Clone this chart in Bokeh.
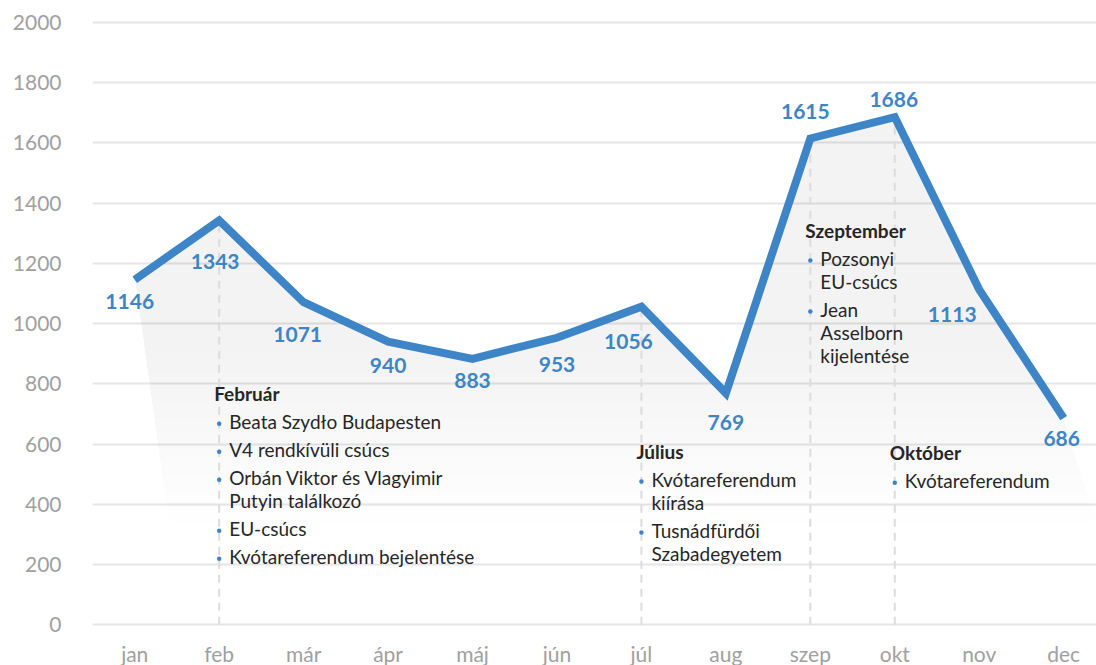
import numpy as np
from bokeh.plotting import figure
from bokeh.models import ColumnDataSource, FixedTicker, Range1d
from bokeh.core.properties import value
from bokeh.embed import file_html
from bokeh.resources import INLINE

# ---------------- data ----------------
months = ["jan", "feb", "már", "ápr", "máj", "jún", "júl", "aug", "szep", "okt", "nov", "dec"]
counts = [1146, 1343, 1071, 940, 883, 953, 1056, 769, 1615, 1686, 1113, 686]
y_ticks = [0, 200, 400, 600, 800, 1000, 1200, 1400, 1600, 1800, 2000]

event_months = ["feb", "júl", "szep", "okt"]
event_titles = ["Február", "Július", "Szeptember", "Október"]
event_items = [
    [["Beata Szydło Budapesten"], ["V4 rendkívüli csúcs"],
     ["Orbán Viktor és Vlagyimir", "Putyin találkozó"], ["EU-csúcs"],
     ["Kvótareferendum bejelentése"]],
    [["Kvótareferendum", "kiírása"], ["Tusnádfürdői", "Szabadegyetem"]],
    [["Pozsonyi", "EU-csúcs"], ["Jean", "Asselborn", "kijelentése"]],
    [["Kvótareferendum"]],
]

# ---------------- style / layout ----------------
BLUE = "#3d85c6"
DARK = "#262626"
GRAY_TXT = "#a0a0a0"
FONT = "Lato"
title_levels = [767, 575, 1309, 571]          # vertical anchor of annotation titles (y units)
label_dx = [-5, -4, -6, 0, 0, 0, -13, 0, -5, -1, -27, -2]
label_dy = [22, 41, 32, 24, 22, 27, 35, 29, -27, -18, 25, 20]
shadow_base, skew_l, skew_r = 340, 0.4, 0.39
Y0, Y1 = -6, 2050
FRAME_H = 619
FRAME_W = 1004
px_per_unit = FRAME_H / (Y1 - Y0)

p = figure(frame_width=FRAME_W, frame_height=FRAME_H,
           x_range=Range1d(-0.5, -0.5 + FRAME_W / 84.45), y_range=Range1d(Y0, Y1),
           output_backend="svg", toolbar_location=None,
           min_border_left=92, min_border_right=0, min_border_top=7, min_border_bottom=20)
p.outline_line_color = None
p.background_fill_color = "white"
p.border_fill_color = "white"

xs = list(range(len(months)))

# ---------------- shadow gradient ----------------
poly = [(i, v) for i, v in zip(xs, counts)] + [(xs[-1] + skew_r, shadow_base), (xs[0] + skew_l, shadow_base)]

def clip_above(poly, level):
    out = []
    n = len(poly)
    for k in range(n):
        cur, prev = poly[k], poly[k - 1]
        cin, pin = cur[1] >= level, prev[1] >= level
        if cin != pin:
            t = (level - prev[1]) / (cur[1] - prev[1])
            out.append((prev[0] + t * (cur[0] - prev[0]), level))
        if cin:
            out.append(cur)
    return out

levels = np.linspace(shadow_base, 880, 12)
layer_alpha = 0.005
for lv in levels:
    c = clip_above(poly, lv)
    if len(c) >= 3:
        p.patch([q[0] for q in c], [q[1] for q in c], fill_color="#3c404b",
                fill_alpha=layer_alpha, line_color=None)

# ---------------- dashed guides ----------------
ev_idx = [months.index(m) for m in event_months]
p.segment(x0=ev_idx, y0=[0] * len(ev_idx), x1=ev_idx, y1=[counts[i] for i in ev_idx],
          line_color="#dcdcdc", line_width=2, line_dash="8 6")

# ---------------- main line ----------------
p.line(xs, counts, line_color=BLUE, line_width=8, line_join="miter", line_cap="butt")

p.text(x=xs, y=counts, text=[str(c) for c in counts], x_offset=label_dx, y_offset=label_dy,
       text_align="center", text_baseline="middle", text_color=BLUE,
       text_font=value(FONT), text_font_style="bold", text_font_size="21px")

# ---------------- annotations ----------------
tx, ty, tt, tdy = [], [], [], []
ix, iy, it, idy = [], [], [], []
bx, by = [], []
for mi, title, items, lvl in zip(ev_idx, event_titles, event_items, title_levels):
    tx.append(mi); ty.append(lvl); tt.append(title); tdy.append(0)
    off = 0
    for item in items:
        off += 28
        bx.append(mi); by.append(lvl - (off + 2) / px_per_unit)
        for j, line in enumerate(item):
            if j > 0:
                off += 23
            ix.append(mi); iy.append(lvl); it.append(line); idy.append(off)

p.text(x=tx, y=ty, text=tt, x_offset=-5, y_offset=tdy, text_align="left",
       text_baseline="middle", text_color=DARK, text_font=value(FONT),
       text_font_style="bold", text_font_size="19px")
p.text(x=ix, y=iy, text=it, x_offset=10, y_offset=idy, text_align="left",
       text_baseline="middle", text_color=DARK, text_font=value(FONT),
       text_font_size="19px")
p.scatter(bx, by, size=4.5, fill_color=BLUE, line_color=None)

# ---------------- axes ----------------
p.xgrid.grid_line_color = None
p.ygrid.grid_line_color = "#e6e6e6"
p.ygrid.grid_line_width = 2
p.ygrid.ticker = FixedTicker(ticks=y_ticks)

p.yaxis.ticker = FixedTicker(ticks=y_ticks)
p.xaxis.ticker = FixedTicker(ticks=xs)
p.xaxis.major_label_overrides = {i: m for i, m in zip(xs, months)}
for ax in (p.xaxis, p.yaxis):
    ax.axis_line_color = None
    ax.major_tick_line_color = None
    ax.minor_tick_line_color = None
    ax.major_label_text_font = FONT
    ax.major_label_text_font_size = "21px"
    ax.major_label_text_color = GRAY_TXT
p.yaxis.major_label_standoff = 25
p.xaxis.major_label_standoff = 8

open("out.html", "w").write(file_html(p, INLINE))
